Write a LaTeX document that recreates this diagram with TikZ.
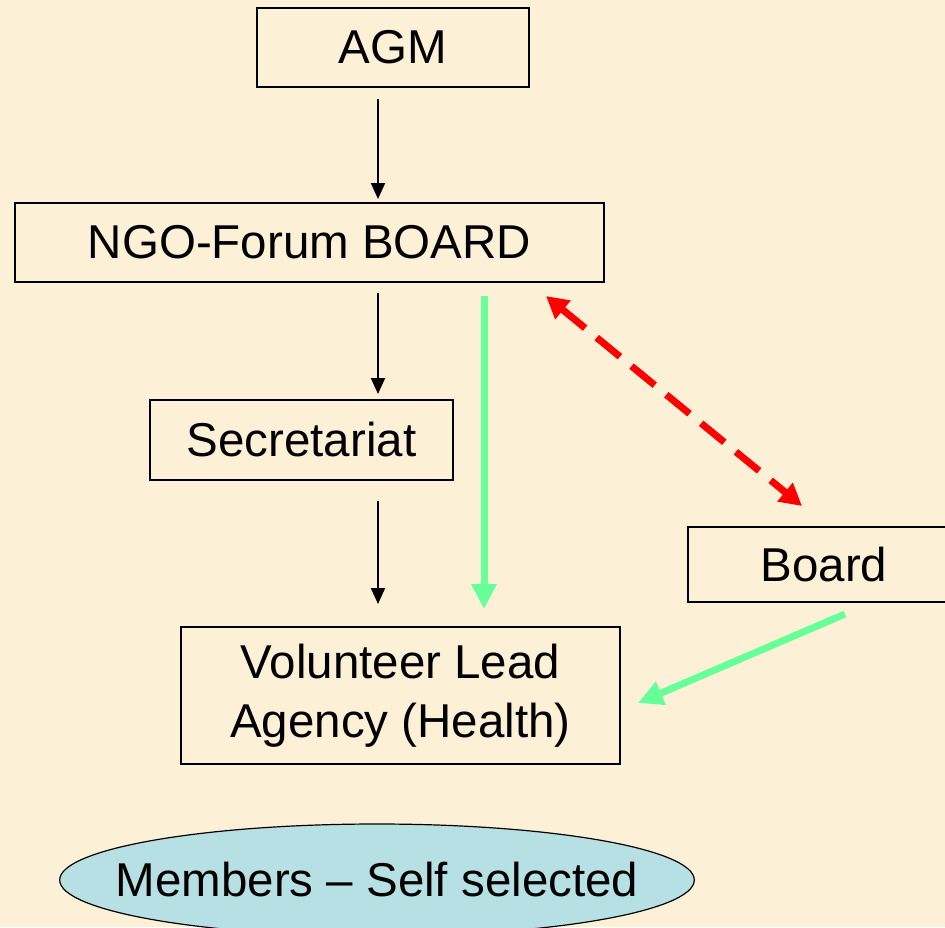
\documentclass[tikz,border=0pt]{standalone}
\usepackage{fontspec}
\setmainfont{Liberation Sans}
\usepackage{tikz}
\usetikzlibrary{shapes,arrows.meta,positioning,calc}
\definecolor{parchment}{RGB}{252, 241, 214}
\definecolor{mint}{RGB}{102, 255, 153}
\definecolor{paleblue}{RGB}{183, 224, 228}
\tikzstyle{box} = [rectangle, draw=black, line width=2pt, fill=none, text=black, align=center, font=\fontsize{47.5}{59}\selectfont, inner sep=0pt]
\tikzstyle{members} = [ellipse, draw=black, line width=1.2pt, fill=paleblue, text=black, font=\fontsize{47.5}{59}\selectfont, inner xsep=-37pt, inner ysep=0pt, minimum height=112pt]
\tikzstyle{tedge} = [draw, line width=2pt, -{Triangle[length=16pt,width=14pt]}]
\tikzstyle{gedge} = [draw=mint, line width=7pt, -{Triangle[length=25pt,width=24pt]}]
\tikzstyle{redge} = [draw=red, line width=7pt, dash pattern=on 30pt off 15pt, {Triangle[length=22pt,width=23pt]}-{Triangle[length=22pt,width=23pt]}]

\begin{document}
\begin{tikzpicture}[x=1pt, y=-1pt]

% page ===================================
\useasboundingbox (0,0) rectangle (945,927);
\fill[parchment] (0,0) rectangle (945,927);

% boxes ==================================
\node[box, minimum width=272pt, minimum height=79pt] (agm) at (393,47.5) {AGM};
\node[box, minimum width=589pt, minimum height=79pt] (ngo) at (309.5,242.5) {NGO-Forum BOARD};
\node[box, minimum width=303pt, minimum height=80pt] (sec) at (301.5,440) {Secretariat};
\node[box, minimum width=272pt, minimum height=75pt] (board) at (824,564.5) {Board};
\node[box, minimum width=439pt, minimum height=137pt] (vol) at (400.5,695.5) {Volunteer Lead\\Agency (Health)};
\node[members] (mem) at (377,880) {Members -- Self selected};

% edges
\coordinate (spine) at (378,0);
\coordinate (gtop) at ([xshift=174.5pt]ngo.south);
\path[tedge, shorten <=11pt, shorten >=3pt] (agm.south -| spine) -- (ngo.north -| spine);
\path[tedge, shorten <=10pt, shorten >=5pt] (ngo.south -| spine) -- (sec.north -| spine);
\path[tedge, shorten <=20pt, shorten >=22pt] (sec.south -| spine) -- (vol.north -| spine);
\path[gedge, shorten <=13pt, shorten >=17pt] (gtop) -- (gtop |- vol.north);
\path[redge] ([shift={(-59,13)}]ngo.south east) -- ([shift={(-22,-20)}]board.north);
\path[gedge] ([shift={(21,11)}]board.south) -- ([shift={(17,7.5)}]vol.east);

\end{tikzpicture}
\end{document}
